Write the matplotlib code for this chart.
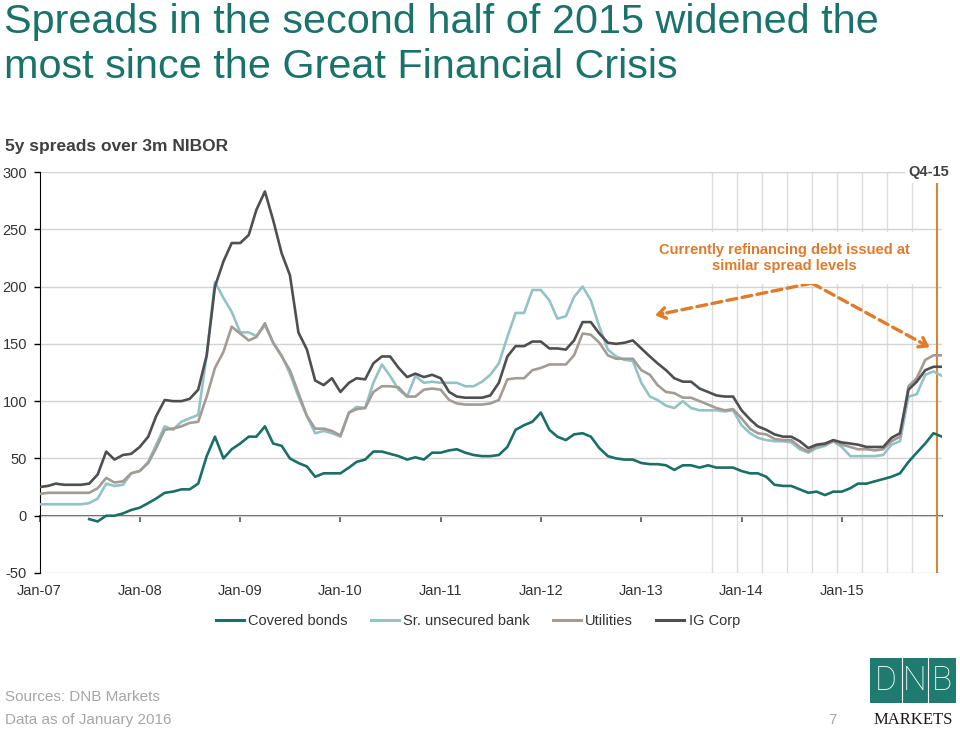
import numpy as np
import pandas as pd
import matplotlib
matplotlib.use("Agg")
import matplotlib.pyplot as plt
import matplotlib.dates as mdates
from matplotlib.patches import Rectangle
from matplotlib.lines import Line2D

plt.rcParams['font.family'] = ['Liberation Sans', 'DejaVu Sans']
plt.rcParams['axes.unicode_minus'] = False

dates = pd.date_range("2007-01-01", "2016-01-01", freq="MS")

covered = [np.nan, np.nan, np.nan, np.nan, np.nan, np.nan, -3, -5, 0, 0, 2, 5,
           7, 11, 15, 20, 21, 23, 23, 28, 52, 69, 50, 58,
           63, 69, 69, 78, 63, 61, 50, 46, 43, 34, 37, 37,
           37, 42, 47, 49, 56, 56, 54, 52, 49, 51, 49, 55,
           55, 57, 58, 55, 53, 52, 52, 53, 60, 75, 79, 82,
           90, 75, 69, 66, 71, 72, 69, 59, 52, 50, 49, 49,
           46, 45, 45, 44, 40, 44, 44, 42, 44, 42, 42, 42,
           39, 37, 37, 34, 27, 26, 26, 23, 20, 21, 18, 21,
           21, 24, 28, 28, 30, 32, 34, 37, 47, 55, 63, 72, 69]

senior = [10, 10, 10, 10, 10, 10, 11, 15, 28, 26, 27, 37,
          39, 47, 62, 78, 75, 82, 85, 88, 140, 204, 190, 178,
          160, 160, 157, 166, 151, 140, 124, 104, 87, 72, 74, 72,
          69, 90, 95, 94, 116, 132, 122, 110, 104, 122, 116, 117,
          116, 116, 116, 113, 113, 117, 123, 133, 156, 177, 177, 197,
          197, 188, 172, 174, 191, 200, 188, 165, 145, 139, 136, 135,
          116, 104, 101, 96, 94, 100, 94, 92, 92, 92, 91, 92,
          79, 72, 68, 66, 65, 65, 64, 58, 55, 59, 61, 65,
          60, 52, 52, 52, 52, 53, 62, 65, 104, 106, 123, 126, 122]

utilities = [19, 20, 20, 20, 20, 20, 20, 24, 33, 29, 30, 37,
             39, 46, 59, 75, 76, 78, 81, 82, 104, 129, 143, 165,
             159, 153, 156, 168, 151, 139, 127, 107, 87, 76, 76, 74,
             70, 90, 93, 94, 108, 113, 113, 112, 104, 104, 110, 111,
             110, 101, 98, 97, 97, 97, 98, 101, 119, 120, 120, 127,
             129, 132, 132, 132, 140, 159, 158, 151, 140, 137, 137, 137,
             127, 123, 114, 108, 107, 103, 103, 100, 97, 94, 92, 93,
             85, 76, 72, 71, 67, 66, 66, 60, 56, 61, 62, 65,
             62, 60, 58, 58, 57, 58, 65, 69, 113, 120, 136, 140, 140]

ig_corp = [25, 26, 28, 27, 27, 27, 28, 36, 56, 49, 53, 54,
           60, 69, 87, 101, 100, 100, 102, 110, 140, 200, 222, 238,
           238, 245, 267, 283, 258, 229, 210, 160, 145, 118, 114, 120,
           108, 116, 120, 119, 133, 139, 139, 129, 121, 124, 121, 123,
           120, 108, 104, 103, 103, 103, 105, 116, 139, 148, 148, 152,
           152, 146, 146, 145, 153, 169, 169, 159, 151, 150, 151, 153,
           146, 139, 133, 127, 120, 117, 117, 111, 108, 105, 104, 104,
           92, 84, 78, 75, 71, 69, 69, 65, 59, 62, 63, 66,
           64, 63, 62, 60, 60, 60, 68, 72, 110, 117, 127, 130, 130]

series_names = ["Covered bonds", "Sr. unsecured bank", "Utilities", "IG Corp"]
colors = ["#1A6F66", "#94C3C4", "#A39B96", "#4F4F51"]

years = pd.date_range("2007-01-01", "2015-01-01", freq="YS")
year_labels = ["Jan-07", "Jan-08", "Jan-09", "Jan-10", "Jan-11",
               "Jan-12", "Jan-13", "Jan-14", "Jan-15"]
quarters = pd.to_datetime(["2013-09-15", "2013-12-15", "2014-03-15", "2014-06-15",
                           "2014-09-15", "2014-12-15", "2015-03-15", "2015-06-15",
                           "2015-09-15"])
q4_15 = pd.Timestamp("2015-12-15")

orange = "#E07B2A"
teal = "#1A7369"
txt = "#333333"

def d(s):
    return mdates.date2num(pd.Timestamp(s))

x = mdates.date2num(dates)

fig = plt.figure(figsize=(9.6, 7.3), dpi=100)
ax = fig.add_axes([39.5 / 960, 1 - 573 / 730, (942 - 39.5) / 960, (573 - 172) / 730])

for q in quarters:
    ax.axvline(mdates.date2num(q), color="#dcdcdc", lw=1, zorder=0)
ax.axvline(mdates.date2num(q4_15), color="#D9862F", lw=1.5, zorder=1)

for vals, name, c in zip([covered, senior, utilities, ig_corp], series_names, colors):
    ax.plot(x, vals, color=c, lw=1.9, label=name, zorder=3)

ax.set_xlim(d("2007-01-01"), d("2016-01-01"))
ax.set_ylim(-50, 300)
ax.set_yticks(range(-50, 301, 50))
ax.grid(axis="y", color="#d4d4d4", lw=1, zorder=0)
ax.set_axisbelow(True)

ax.set_xticks(mdates.date2num(years))
ax.set_xticklabels(year_labels)
ax.tick_params(axis="x", length=0, pad=8, labelsize=10.5, labelcolor=txt)
ax.tick_params(axis="y", length=4, width=1, color="black", pad=5,
               labelsize=10.5, labelcolor=txt)
for s in ["top", "right", "bottom"]:
    ax.spines[s].set_visible(False)
ax.spines["left"].set_color("black")

# zero line with year ticks
zero = ax.secondary_xaxis(50 / 350)
zero.set_xticks(mdates.date2num(years))
zero.tick_params(length=4, width=1.2, color="#555555", labelbottom=False)
zero.spines["bottom"].set_color("#555555")
zero.spines["bottom"].set_linewidth(1.4)

ax.annotate("Q4-15", xy=(mdates.date2num(q4_15), 300), xytext=(-6, 0),
            textcoords="offset points", ha="center", va="center",
            fontsize=10.5, fontweight="bold", color="#404040",
            bbox=dict(fc="white", ec="none", pad=2.5), zorder=6,
            annotation_clip=False)

ax.text(d("2014-06-05"), 225, "Currently refinancing debt issued at\nsimilar spread levels",
        ha="center", va="center", fontsize=10.5, fontweight="bold", color=orange,
        linespacing=1.15, bbox=dict(fc="white", ec="none", pad=8), zorder=5)

apex = (d("2014-09-14"), 203)
for head in [(d("2013-02-20"), 175), (d("2015-11-17"), 147)]:
    ax.annotate("", xy=head, xytext=apex,
                arrowprops=dict(arrowstyle="-", color=orange, lw=2.4,
                                linestyle=(0, (3, 1.6)), shrinkA=0, shrinkB=3))
    back = (head[0] + (apex[0] - head[0]) * 0.05, head[1] + (apex[1] - head[1]) * 0.05)
    ax.annotate("", xy=head, xytext=back,
                arrowprops=dict(arrowstyle="->,head_length=0.55,head_width=0.38",
                                color=orange, lw=2.4, shrinkA=0, shrinkB=0))

leg = fig.legend(loc="center", bbox_to_anchor=(478 / 960, 1 - 621 / 730), ncol=4,
                 frameon=False, fontsize=10.5, handlelength=1.9, handletextpad=0.3,
                 columnspacing=1.6)
for t in leg.get_texts():
    t.set_color(txt)
for h in leg.get_lines():
    h.set_linewidth(2.2)

fig.text(4 / 960, 1 - 3 / 730,
         "Spreads in the second half of 2015 widened the\nmost since the Great Financial Crisis",
         fontsize=29.8, color=teal, va="top", ha="left", linespacing=1.24)
fig.text(5 / 960, 1 - 146 / 730, "5y spreads over 3m NIBOR", fontsize=12.5,
         fontweight="bold", color="#404040", va="center", ha="left")

fig.text(5 / 960, 1 - 697 / 730, "Sources: DNB Markets", fontsize=11, color="#a6a6a6", va="center")
fig.text(5 / 960, 1 - 720 / 730, "Data as of January 2016", fontsize=11, color="#a6a6a6", va="center")
fig.text(832 / 960, 1 - 720 / 730, "7", fontsize=11, color="#a6a6a6", va="center", ha="center")

# logo
fig.add_artist(Rectangle((870 / 960, 1 - 703 / 730), 86 / 960, 45 / 730,
                         transform=fig.transFigure, fc="#1E7B70", ec="none"))
for lx in [902, 928]:
    fig.add_artist(Line2D([lx / 960, lx / 960], [1 - 703 / 730, 1 - 658 / 730],
                          transform=fig.transFigure, color="white", lw=0.8))
for letter, lx in zip("DNB", [886, 915, 942]):
    fig.text(lx / 960, 1 - 681 / 730, letter, fontsize=24, color="white",
             ha="center", va="center", family=["Roboto", "DejaVu Sans"], fontweight="light")
fig.text(913 / 960, 1 - 720 / 730, "MARKETS", fontsize=12, color="#1a1a1a",
         ha="center", va="center", family=["Liberation Serif", "DejaVu Serif"])

fig.savefig("out.png", dpi=100)
